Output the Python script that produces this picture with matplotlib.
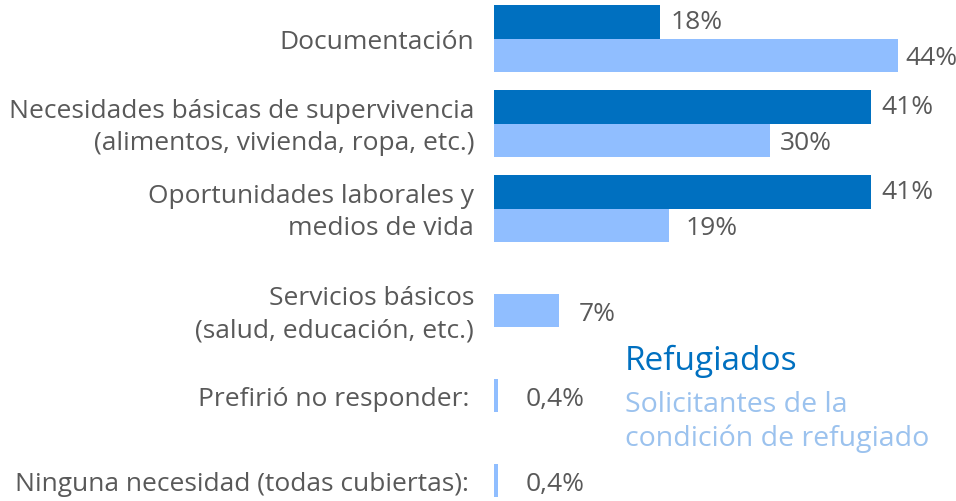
import matplotlib
matplotlib.use("Agg")
import matplotlib.pyplot as plt

plt.rcParams['font.family'] = ['Open Sans', 'DejaVu Sans']

categories = [
    "Documentación",
    "Necesidades básicas de supervivencia\n(alimentos, vivienda, ropa, etc.)",
    "Oportunidades laborales y\nmedios de vida",
    "Servicios básicos\n(salud, educación, etc.)",
    "Prefirió no responder:",
    "Ninguna necesidad (todas cubiertas):",
]
refugiados = [18, 41, 41, None, None, None]
solicitantes = [44, 30, 19, 7, 0.4, 0.4]
sol_labels = ["44%", "30%", "19%", "7%", "0,4%", "0,4%"]
ref_labels = ["18%", "41%", "41%", None, None, None]

series_names = ["Refugiados", "Solicitantes de la\ncondición de refugiado"]

# layout (style, not data)
row_pos = [0, 1, 2, 3.2, 4.2, 5.2]
bar_h = 0.395
ref_pad_px = [11, 11, 11]
sol_pad_px = [7, 10, 17, 20, 28, 28]
label_right_px = [474, 474, 474, 474, 469, 469]

DARK = "#0070C0"
LIGHT = "#90BEFF"
LEG_LIGHT = "#9BC2EE"
GRAY = "#595959"

W, H = 956, 502
fig = plt.figure(figsize=(W / 100, H / 100), dpi=100)
x0 = 494.3
px_per_unit = 9.18
xmax = 50
ax = fig.add_axes([x0 / W, 0, xmax * px_per_unit / W, 1])
ax.set_xlim(0, xmax)
unit = 85.0
top_c = 39.5
ax.set_ylim((H - top_c) / unit, -top_c / unit)
ax.axis("off")

def px2x(px):
    return px / px_per_unit

fs = 19
for i, cat in enumerate(categories):
    y = row_pos[i]
    r = refugiados[i]
    s = solicitantes[i]
    if r is not None:
        ax.barh(y - bar_h / 2, r, height=bar_h, color=DARK, edgecolor="none")
        ax.barh(y + bar_h / 2, s, height=bar_h, color=LIGHT, edgecolor="none")
        ax.text(r + px2x(ref_pad_px[i]), y - bar_h / 2 + 0.0, ref_labels[i],
                va="center", ha="left", fontsize=fs, color=GRAY)
        ax.text(s + px2x(sol_pad_px[i]), y + bar_h / 2 + 0.03, sol_labels[i],
                va="center", ha="left", fontsize=fs, color=GRAY)
    else:
        ax.barh(y, s, height=bar_h, color=LIGHT, edgecolor="none")
        ax.text(s + px2x(sol_pad_px[i]), y + 0.03, sol_labels[i],
                va="center", ha="left", fontsize=fs, color=GRAY)
    fig.text(label_right_px[i] / W, 1 - (top_c + y * unit + 3) / H, cat,
             ha="right", va="center", fontsize=fs, color=GRAY,
             linespacing=1.38)

fig.text(625 / W, 1 - 361 / H, series_names[0], ha="left", va="center",
         fontsize=24, color=DARK)
fig.text(625 / W, 1 - 422 / H, series_names[1], ha="left", va="center",
         fontsize=20.5, color=LEG_LIGHT, linespacing=1.3)

fig.savefig("out.png", dpi=100)
